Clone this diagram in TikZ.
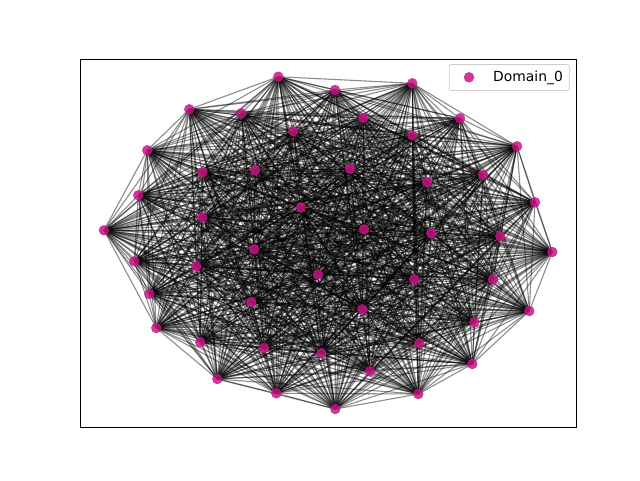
\documentclass[tikz,border=0pt]{standalone}
\usepackage{fontspec}
\setmainfont{DejaVu Sans}
\definecolor{nodecol}{RGB}{199,21,133}
\begin{document}
\begin{tikzpicture}[x=1pt,y=-1pt,
  edge/.style={draw=black,opacity=0.45,line width=1.1pt},
  vert/.style={circle,fill=nodecol,fill opacity=0.85,draw=none,minimum size=10.5pt,inner sep=0pt},
  axbox/.style={draw=black,line width=1pt},
  legbox/.style={draw=black!20,fill=white,fill opacity=0.8,rounded corners=2pt,line width=0.8pt}]
\useasboundingbox (0,0) rectangle (640,480);
\foreach \k/\x/\y in {1/278.3/76.7,2/189.3/109.3,3/241.3/113.3,4/293.3/131.3,5/147.3/150.3,
 6/202.3/172.3,7/255.3/170.3,8/335/90,9/412.3/83.3,10/363.3/118,11/460/118.3,12/412.3/135.3,
 13/517/146.3,14/350/169,15/483/175,16/427/182,17/138.3/195.3,18/104/230.3,19/202.3/217.3,
 20/254.3/249.3,21/301/207.3,22/134.3/261.3,23/196.3/266.3,24/318/274.3,25/149.3/294,
 26/251.3/302,27/535/202.3,28/364/229.3,29/431.3/233.3,30/500.3/236.3,31/552.3/252,
 32/414.3/279.3,33/493/279.3,34/156.3/328,35/200.3/342.3,36/264/348,37/217.3/379,
 38/276.3/393.3,39/321.3/353.3,40/362.3/309.3,41/529.3/311,42/474.3/322.3,43/419.3/343.3,
 44/370/371.3,45/472.3/364,46/418.3/394,47/335.3/409}
  {\coordinate (n\k) at (\x,\y);}
\foreach \i in {1,...,46}{
  \pgfmathtruncatemacro{\s}{\i+1}
  \foreach \j in {\s,...,47}{
    \draw[edge] (n\i) -- (n\j);
  }
}
\foreach \k in {1,...,47}{\node[vert] (m\k) at (n\k) {};}
\node[axbox,minimum width=496pt,minimum height=368pt,inner sep=0pt] (ax) at (328,243) {};
\node[legbox,minimum width=120pt,minimum height=26pt,inner sep=0pt] (leg) at (509.3,77.5) {};
\node[vert] (legm) at (469,77.3) {};
\node[anchor=west,inner sep=0pt,font=\fontsize{13.9}{16}\selectfont] (legt) at (493,77.5) {Domain\_0};
\end{tikzpicture}
\end{document}
